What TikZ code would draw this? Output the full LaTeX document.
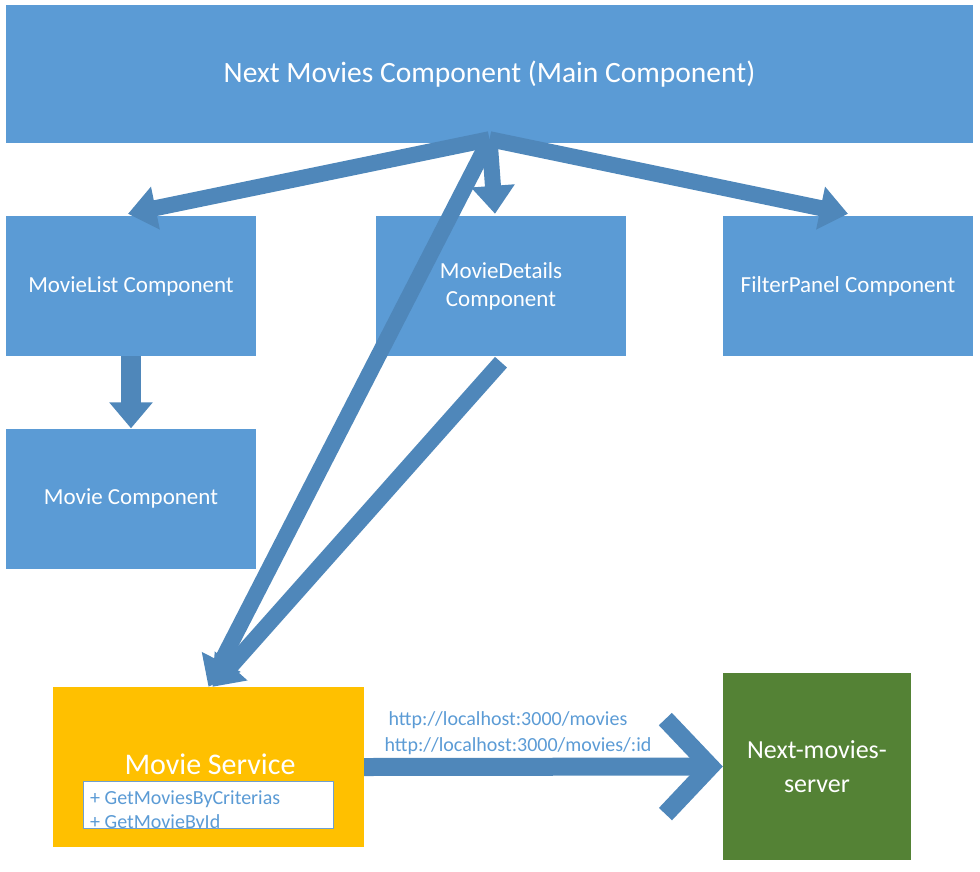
\documentclass[tikz,border=0pt]{standalone}
\usepackage{fontspec}
\setmainfont{Carlito}
\usepackage{xcolor}
\usepackage{tikz}
\usetikzlibrary{positioning,calc,arrows.meta}
\definecolor{compblue}{HTML}{5B9BD5}
\definecolor{arrowblue}{HTML}{4F87BA}
\definecolor{serviceyellow}{HTML}{FFC000}
\definecolor{servergreen}{HTML}{548235}
\definecolor{methodedge}{HTML}{6FA0D0}
\tikzset{
  compbox/.style={fill=compblue, text=white, align=center, inner sep=0pt,
    minimum width=250pt, minimum height=140pt, font=\fontsize{23}{28}\selectfont},
  mainbox/.style={compbox, minimum width=967pt, minimum height=138pt, font=\fontsize{29.5}{34}\selectfont},
  servicebox/.style={fill=serviceyellow, inner sep=0pt, minimum width=311pt, minimum height=160pt},
  serverbox/.style={fill=servergreen, text=white, align=center, inner sep=0pt,
    minimum width=188pt, minimum height=187pt, font=\fontsize{26}{34}\selectfont},
  methodbox/.style={draw=methodedge, line width=1pt, fill=white, inner sep=0pt,
    minimum width=250pt, minimum height=47pt},
  methodtext/.style={text=compblue, inner sep=0pt, anchor=base west, font=\fontsize{20}{24}\selectfont},
  urltext/.style={text=compblue, inner sep=0pt, font=\fontsize{20}{24}\selectfont},
  blockarrow/.style={draw=arrowblue, line width=16pt, -{Triangle[length=28pt, width=42pt]}},
  fatarrow/.style={draw=arrowblue, line width=20pt, -{Triangle[length=26pt, width=42pt]}},
  chevronarrow/.style={draw=arrowblue, line width=18pt, -{Straight Barb[length=45pt, width=95pt, line width=18pt]}},
}
\begin{document}
\begin{tikzpicture}[x=1pt, y=-1pt]
	\useasboundingbox (0,0) rectangle (980,871);

	% Main component and its children
	\node[mainbox] (main) at (489.5,74) {Next Movies Component (Main Component)};
	\node[compbox] (movielist) at (131,286) {MovieList Component};
	\node[compbox] (details) at (501,286) {MovieDetails\\Component};
	\node[compbox] (filter) at (848,286) {FilterPanel Component};
	\node[compbox] (movie) at (131,498.5) {Movie Component};

	% Service and backend
	\node[servicebox] (service) at (208.5,767) {};
	\node[text=white, inner sep=0pt, anchor=base, font=\fontsize{30}{34}\selectfont] (servicename) at (210,774) {Movie Service};
	\node[methodbox] (methods) at (208,804.5) {};
	\begin{scope}
		\clip (methods.south west) rectangle (methods.north east);
		\node[methodtext] (methodone) at (90,804) {+ GetMoviesByCriterias};
		\node[methodtext] (methodtwo) at (90,828) {+ GetMovieById};
	\end{scope}
	\node[serverbox] (server) at (817,766.5) {Next-movies-\\server};

	% Arrows from the main component
	\coordinate (hub) at ($(main.south)+(0,-4)$);
	\draw[blockarrow] (hub) -- ($(movielist.north)+(-3,-2)$);
	\draw[blockarrow] (hub) -- ($(details.north)+(-6,-2)$);
	\draw[blockarrow] (hub) -- ($(filter.north)+(0,-2)$);
	\draw[blockarrow] ($(main.south)+(-2,0)$) -- (service.north);
	\draw[blockarrow] ($(details.south)+(0,6)$) -- ($(service.north)+(4,0)$);
	\draw[fatarrow] (movielist.south) -- (movie.north);

	% Calls to the server
	\draw[chevronarrow] (service.east) -- (server.west);
	\node[urltext] (urlall) at (508,720) {http://localhost:3000/movies};
	\node[urltext] (urlone) at (518,746) {http://localhost:3000/movies/:id};
\end{tikzpicture}
\end{document}
